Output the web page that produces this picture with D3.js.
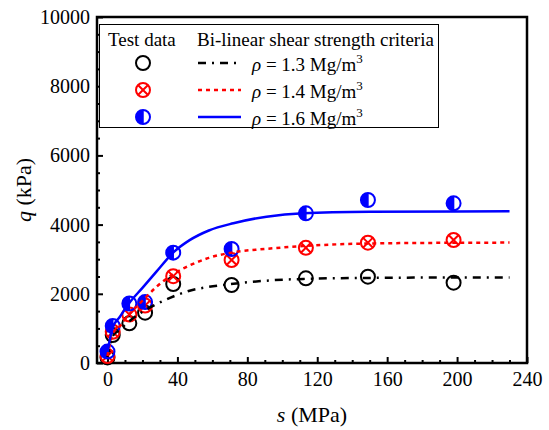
<!DOCTYPE html>
<html lang="en">
<head>
    <meta charset="UTF-8">
    <title>q - s</title>
    <script src="https://d3js.org/d3.v7.min.js"></script>
    <style>
        body { margin: 0; background: #fff; }
        .tick line { stroke: #000; stroke-width: 2; }
    </style>
</head>
<body>
    <svg id="chart"></svg>
    <script>
        // test data
        var sTest = [0, 3, 12.5, 21.5, 37.6, 71, 113.5, 149, 198];
        var qTest13 = [160, 809, 1147, 1454, 2283, 2254, 2447, 2495, 2321];
        var qTest14 = [200, 900, 1400, 1660, 2510, 2977, 3330, 3478, 3555];
        var qTest16 = [330, 1070, 1720, 1760, 3190, 3295, 4326, 4711, 4615];

        // bi-linear criteria curves
        var sFit = [0, 3, 7, 13, 20, 28, 38, 47, 58, 72, 91, 112, 150, 200, 230];
        var qFit13 = [170, 780, 960, 1230, 1480, 1700, 1930, 2090, 2200, 2290, 2380, 2430, 2460, 2470, 2470];
        var qFit14 = [200, 850, 1060, 1440, 1800, 2200, 2580, 2820, 3040, 3200, 3300, 3380, 3455, 3475, 3480];
        var qFit16 = [320, 1020, 1330, 1770, 2170, 2640, 3210, 3550, 3830, 4040, 4230, 4330, 4370, 4380, 4385];

        var xMajor = [0, 40, 80, 120, 160, 200, 240];
        var yMajor = [0, 2000, 4000, 6000, 8000, 10000];

        var series = [
            { label: "1.3", test: qTest13, fit: qFit13, color: "#000", dash: "8,6,2,6", marker: "circle" },
            { label: "1.4", test: qTest14, fit: qFit14, color: "#ff0000", dash: "4,4", marker: "cross" },
            { label: "1.6", test: qTest16, fit: qFit16, color: "#0000ff", dash: null, marker: "half" }
        ];

        var FONT = "'Liberation Serif', 'DejaVu Serif', serif";

        var W = 549, H = 430;
        var margin = { top: 17, right: 22, bottom: 67, left: 97 };
        var width = W - margin.left - margin.right;
        var height = H - margin.top - margin.bottom;

        var svg = d3.select("#chart").attr("width", W).attr("height", H);
        var g = svg.append("g").attr("transform", "translate(" + margin.left + "," + margin.top + ")");

        var x = d3.scaleLinear().domain([-6, 240]).range([0, width]);
        var y = d3.scaleLinear().domain([0, 10000]).range([height, 0]);

        // minor ticks
        g.append("g")
            .attr("transform", "translate(0," + height + ")")
            .call(d3.axisBottom(x).tickValues(d3.range(10, 240, 10).filter(d => d % 40 !== 0)).tickSize(-3).tickFormat(""))
            .call(a => a.select(".domain").remove());
        g.append("g")
            .call(d3.axisLeft(y).tickValues(d3.range(500, 10000, 500).filter(d => d % 2000 !== 0)).tickSize(-3).tickFormat(""))
            .call(a => a.select(".domain").remove());

        // major ticks
        g.append("g")
            .attr("transform", "translate(0," + height + ")")
            .call(d3.axisBottom(x).tickValues(xMajor).tickSize(-6).tickPadding(9).tickFormat(d3.format("d")))
            .call(a => a.select(".domain").remove())
            .call(a => a.selectAll("text").style("font-family", FONT).style("font-size", "20px").attr("fill", "#000"));
        g.append("g")
            .call(d3.axisLeft(y).tickValues(yMajor).tickSize(-6).tickPadding(7).tickFormat(d3.format("d")))
            .call(a => a.select(".domain").remove())
            .call(a => a.selectAll("text").style("font-family", FONT).style("font-size", "20px").attr("fill", "#000"));

        // frame
        g.append("rect")
            .attr("width", width).attr("height", height)
            .attr("fill", "none").attr("stroke", "#000").attr("stroke-width", 2.5);

        var line = d3.line()
            .x(d => x(d[0]))
            .y(d => y(d[1]))
            .curve(d3.curveMonotoneX);

        function drawMarker(sel, type, color, r) {
            if (type === "circle") {
                sel.append("circle").attr("r", r).attr("fill", "none").attr("stroke", color).attr("stroke-width", 2);
            } else if (type === "cross") {
                sel.append("circle").attr("r", r).attr("fill", "none").attr("stroke", color).attr("stroke-width", 2);
                var k = r * 0.72;
                sel.append("path").attr("d", "M" + (-k) + "," + (-k) + "L" + k + "," + k + "M" + (-k) + "," + k + "L" + k + "," + (-k))
                    .attr("stroke", color).attr("stroke-width", 2).attr("fill", "none");
            } else {
                sel.append("path").attr("d", "M0," + (-r) + "A" + r + "," + r + " 0 0 0 0," + r + "Z").attr("fill", color);
                sel.append("circle").attr("r", r).attr("fill", "none").attr("stroke", color).attr("stroke-width", 2);
                sel.append("line").attr("y1", -r).attr("y2", r).attr("stroke", color).attr("stroke-width", 1.5);
            }
        }

        // markers
        series.forEach(function(s) {
            var pts = g.append("g").selectAll("g")
                .data(sTest.map((v, i) => [v, s.test[i]]))
                .enter().append("g")
                .attr("transform", d => "translate(" + x(d[0]) + "," + y(d[1]) + ")");
            pts.each(function() { drawMarker(d3.select(this), s.marker, s.color, 7); });
        });

        // fitted curves
        series.forEach(function(s) {
            g.append("path")
                .datum(sFit.map((v, i) => [v, s.fit[i]]))
                .attr("d", line)
                .attr("fill", "none")
                .attr("stroke", s.color)
                .attr("stroke-width", 2.5)
                .attr("stroke-dasharray", s.dash);
        });

        function label(parent, xPos, yPos, size) {
            return parent.append("text").attr("x", xPos).attr("y", yPos)
                .style("font-family", FONT).style("font-size", size + "px");
        }

        // legend
        var leg = svg.append("g");
        leg.append("rect")
            .attr("x", 99.5).attr("y", 24.5).attr("width", 339).attr("height", 103)
            .attr("fill", "#fff").attr("stroke", "#000").attr("stroke-width", 1);
        label(leg, 108, 46, 19).text("Test data");
        label(leg, 197, 46, 19).text("Bi-linear shear strength criteria");

        series.forEach(function(s, i) {
            var cy = 63 + i * 27;
            drawMarker(leg.append("g").attr("transform", "translate(143," + cy + ")"), s.marker, s.color, 7);
            leg.append("line")
                .attr("x1", 198).attr("x2", 241).attr("y1", cy).attr("y2", cy)
                .attr("stroke", s.color).attr("stroke-width", 2.5)
                .attr("stroke-dasharray", s.dash);
            var t = label(leg, 252, cy + 8, 19);
            t.append("tspan").attr("font-style", "italic").text("\u03C1");
            t.append("tspan").text(" = " + s.label + " Mg/m");
            t.append("tspan").style("font-size", "13px").attr("dy", -8).text("3");
        });

        // axis titles
        var xt = label(svg, margin.left + width / 2, 422, 22).attr("text-anchor", "middle");
        xt.append("tspan").attr("font-style", "italic").text("s");
        xt.append("tspan").text(" (MPa)");

        var yt = label(svg, 0, 0, 22)
            .attr("transform", "translate(31," + (margin.top + height / 2) + ") rotate(-90)")
            .attr("text-anchor", "middle");
        yt.append("tspan").attr("font-style", "italic").text("q");
        yt.append("tspan").text(" (kPa)");
    </script>
</body>
</html>
